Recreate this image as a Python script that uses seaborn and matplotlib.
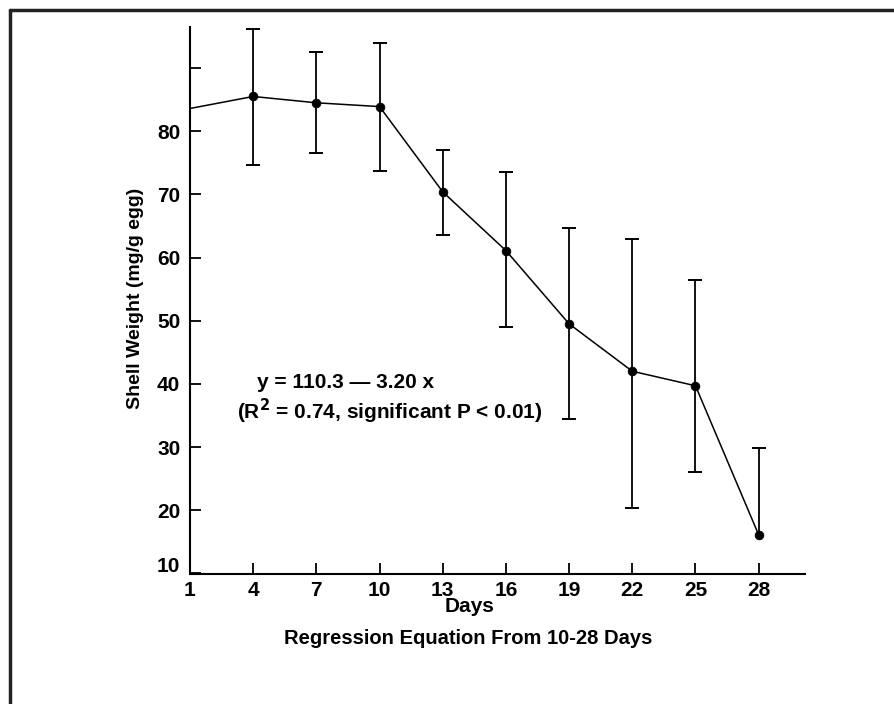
import matplotlib
matplotlib.use("Agg")
import matplotlib.pyplot as plt
from matplotlib.lines import Line2D
import matplotlib.transforms as mtransforms
import seaborn as sns
import pandas as pd

days = [1, 4, 7, 10, 13, 16, 19, 22, 25, 28]
shell_weight = [83.6, 85.5, 84.5, 83.9, 70.4, 61.1, 49.5, 42.0, 39.7, 16.1]
err_upper = [None, 96.2, 92.6, 93.9, 77.0, 73.6, 64.7, 63.0, 56.4, 29.9]
err_lower = [None, 74.6, 76.5, 73.7, 63.6, 49.0, 34.4, 20.4, 26.0, None]
xtick_vals = [1, 4, 7, 10, 13, 16, 19, 22, 25, 28]
ytick_vals = [10, 20, 30, 40, 50, 60, 70, 80, 90]
ytick_labels = ["10", "20", "30", "40", "50", "60", "70", "80", ""]

df = pd.DataFrame({"day": days, "weight": shell_weight,
                   "hi": err_upper, "lo": err_lower}).astype(float)

sns.set_style("white")
plt.rcParams["font.family"] = ["Liberation Sans", "DejaVu Sans"]
plt.rcParams["font.weight"] = "bold"
plt.rcParams["text.color"] = "black"
plt.rcParams["xtick.color"] = "black"
plt.rcParams["ytick.color"] = "black"

fig = plt.figure(figsize=(8.95, 7.04), dpi=100)
ax = fig.add_axes([190 / 895, 1 - 574 / 704, (805 - 190) / 895, (574 - 27) / 704])

sns.lineplot(data=df, x="day", y="weight", ax=ax, color="black",
             linewidth=1.1)

pts = df.iloc[1:]
bar_lo = pts["lo"].fillna(pts["weight"])
ax.vlines(pts["day"], bar_lo, pts["hi"], color="black", linewidth=1.3)
caps_hi = pts.dropna(subset=["hi"])
caps_lo = pts.dropna(subset=["lo"])
sns.scatterplot(x=caps_hi["day"], y=caps_hi["hi"], ax=ax, marker="_", s=110,
                color="black", linewidth=1.4)
sns.scatterplot(x=caps_lo["day"], y=caps_lo["lo"], ax=ax, marker="_", s=110,
                color="black", linewidth=1.4)
sns.scatterplot(data=pts, x="day", y="weight", ax=ax, color="black",
                s=40, edgecolor="black", zorder=5)

ax.set_xlim(1, 30.2)
ax.set_ylim(9.9, 96.5)
ax.set_xticks(xtick_vals)
ax.set_xticklabels([str(v) for v in xtick_vals], fontsize=15, fontweight="bold")
ax.set_yticks(ytick_vals)
ax.set_yticklabels(ytick_labels, fontsize=15, fontweight="bold")
ax.tick_params(axis="both", direction="in", length=8, width=1.3, color="black",
               left=True, bottom=True)
ax.tick_params(axis="y", pad=7)
ax.tick_params(axis="x", pad=5)

# lift the lowest y label slightly, as in the original
lbl10 = ax.get_yticklabels()[0]
lbl10.set_transform(lbl10.get_transform() +
                    mtransforms.ScaledTranslation(0, 9 / 100, fig.dpi_scale_trans))

sns.despine(ax=ax)
for side in ["left", "bottom"]:
    ax.spines[side].set_linewidth(1.5)
    ax.spines[side].set_color("black")

ax.set_xlabel("")
ax.set_ylabel("")
fig.text(136 / 895, 1 - 298 / 704, "Shell Weight (mg/g egg)", rotation=90,
         ha="center", va="center", fontsize=14, fontweight="bold")
fig.text(470 / 895, 1 - 607 / 704, "Days", ha="center", va="center",
         fontsize=15, fontweight="bold")
fig.text(468 / 895, 1 - 638 / 704, "Regression Equation From 10-28 Days",
         ha="center", va="center", fontsize=14.5, fontweight="bold")
fig.text(346 / 895, 1 - 382 / 704, "y = 110.3 \u2014 3.20 x", ha="center",
         va="center", fontsize=15, fontweight="bold")
fig.text(390 / 895, 1 - 411 / 704,
         "(R$^{\\mathbf{2}}$ = 0.74, significant P < 0.01)", ha="center",
         va="center", fontsize=15, fontweight="bold")

# page frame lines (top and left)
fig.add_artist(Line2D([10 / 895, 10 / 895], [0, 1 - 10 / 704],
                      transform=fig.transFigure, color="#222222", linewidth=2.5))
fig.add_artist(Line2D([10 / 895, 1], [1 - 10 / 704, 1 - 10 / 704],
                      transform=fig.transFigure, color="#222222", linewidth=2.5))

fig.savefig("out.png", dpi=100)
